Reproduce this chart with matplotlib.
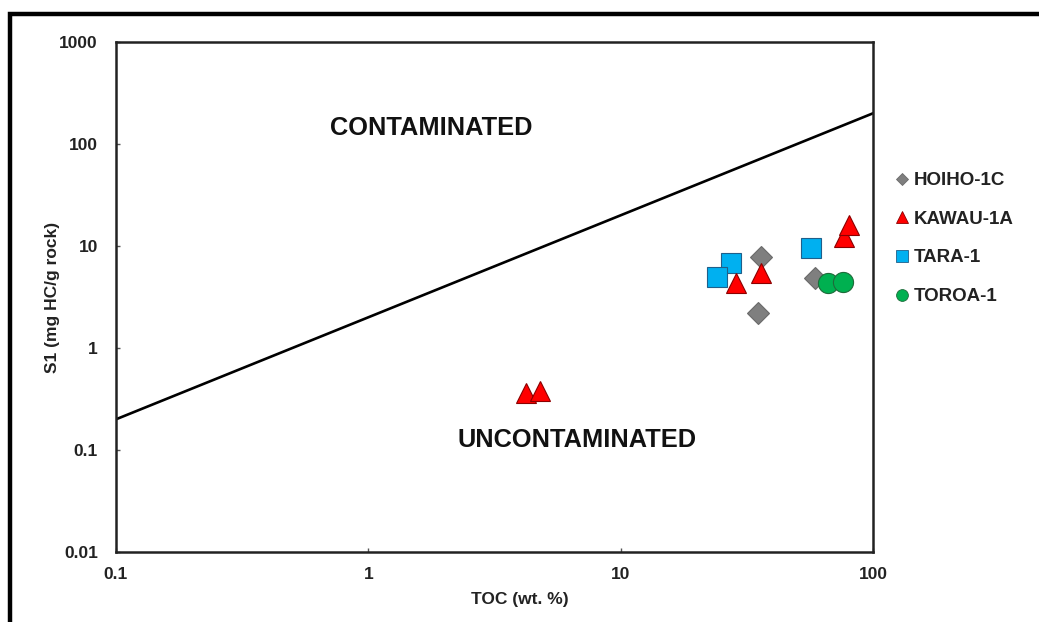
import matplotlib
matplotlib.use("Agg")
import matplotlib.pyplot as plt
from matplotlib.patches import Rectangle
from matplotlib.lines import Line2D

plt.rcParams['font.family'] = ['Liberation Sans', 'DejaVu Sans']
plt.rcParams['font.weight'] = 'bold'

# Sample data: TOC (wt. %) and S1 (mg HC/g rock) per well
hoiho_toc = [36.0, 35.0, 59.0]
hoiho_s1 = [7.8, 2.2, 4.9]

kawau_toc = [4.2, 4.8, 28.6, 36.0, 76.5, 80.0]
kawau_s1 = [0.36, 0.38, 4.3, 5.4, 12.3, 16.0]

tara_toc = [27.3, 24.0, 56.7]
tara_s1 = [6.8, 5.0, 9.5]

toroa_toc = [66.3, 76.0]
toroa_s1 = [4.3, 4.4]

# Contamination boundary: S1 = 2 x TOC
boundary_toc = [0.1, 100]
boundary_s1 = [0.2, 200]

x_ticks = [0.1, 1, 10, 100]
x_ticklabels = ['0.1', '1', '10', '100']
y_ticks = [0.01, 0.1, 1, 10, 100, 1000]
y_ticklabels = ['0.01', '0.1', '1', '10', '100', '1000']

W, H = 1039, 622
fig = plt.figure(figsize=(W / 100, H / 100), dpi=100)
ax = fig.add_axes([116 / W, 1 - 552 / H, (873 - 116) / W, (552 - 42) / H])

ax.set_xscale('log')
ax.set_yscale('log')
ax.set_xlim(0.1, 100)
ax.set_ylim(0.01, 1000)

ax.plot(boundary_toc, boundary_s1, color='black', lw=1.9, zorder=2)

ax.plot(hoiho_toc, hoiho_s1, ls='none', marker='D', ms=11, mfc='#7f7f7f',
        mec='#6a6a6a', mew=0.8, zorder=3)
ax.plot(tara_toc, tara_s1, ls='none', marker='s', ms=14.5, mfc='#00b0f0',
        mec='#1f5f8a', mew=0.8, zorder=3)
ax.plot(kawau_toc, kawau_s1, ls='none', marker='^', ms=14.5, mfc='#ff0000',
        mec='#8b0000', mew=0.8, zorder=4)
ax.plot(toroa_toc, toroa_s1, ls='none', marker='o', ms=14.5, mfc='#00b050',
        mec='#1e6b3a', mew=0.8, zorder=3)

ax.set_xticks(x_ticks)
ax.set_xticklabels(x_ticklabels)
ax.set_yticks(y_ticks)
ax.set_yticklabels(y_ticklabels)
ax.minorticks_off()
ax.tick_params(axis='x', pad=11)
ax.tick_params(axis='y', pad=13)
ax.tick_params(axis='both', direction='in', length=3, width=1, colors='#555555',
               labelcolor='#222222', labelsize=12.5)
for lbl in ax.get_xticklabels() + ax.get_yticklabels():
    lbl.set_fontweight('bold')

for sp in ax.spines.values():
    sp.set_linewidth(1.8)
    sp.set_color('#222222')

ax.set_xlabel('TOC (wt. %)', fontsize=12.5, fontweight='bold', color='#222222')
ax.set_ylabel('S1 (mg HC/g rock)', fontsize=12.5, fontweight='bold', color='#222222')
ax.xaxis.set_label_coords((520 - 116) / 757, -(592 - 552) / 510)
ax.yaxis.set_label_coords(-(116 - 60) / 757, 0.5)

ax.text(431 / W, 1 - 128 / H, 'CONTAMINATED', transform=fig.transFigure,
        ha='center', va='center', fontsize=18.3, fontweight='bold', color='#111111')
ax.text(577 / W, 1 - 440 / H, 'UNCONTAMINATED', transform=fig.transFigure,
        ha='center', va='center', fontsize=18.3, fontweight='bold', color='#111111')

handles = [
    Line2D([], [], ls='none', marker='D', ms=6.5, mfc='#7f7f7f', mec='#6a6a6a', mew=0.6),
    Line2D([], [], ls='none', marker='^', ms=8.5, mfc='#ff0000', mec='#8b0000', mew=0.6),
    Line2D([], [], ls='none', marker='s', ms=8.5, mfc='#00b0f0', mec='#1f5f8a', mew=0.6),
    Line2D([], [], ls='none', marker='o', ms=8.5, mfc='#00b050', mec='#1e6b3a', mew=0.6),
]
labels = ['HOIHO-1C', 'KAWAU-1A', 'TARA-1', 'TOROA-1']
leg = fig.legend(handles, labels, loc='upper left', bbox_to_anchor=(896 / W, 1 - 172 / H),
                 frameon=False, handlelength=0.6, handletextpad=0.35, labelspacing=1.15,
                 prop={'weight': 'bold', 'size': 13.5}, borderaxespad=0, borderpad=0)
for t in leg.get_texts():
    t.set_color('#222222')

# Outer frame around the chart area
fig.add_artist(Rectangle((10 / W, -0.05), 1.1, 1 - 13.5 / H + 0.05, transform=fig.transFigure,
                         fill=False, lw=3.2, ec='black', clip_on=False))

fig.savefig('out.png', dpi=100)
